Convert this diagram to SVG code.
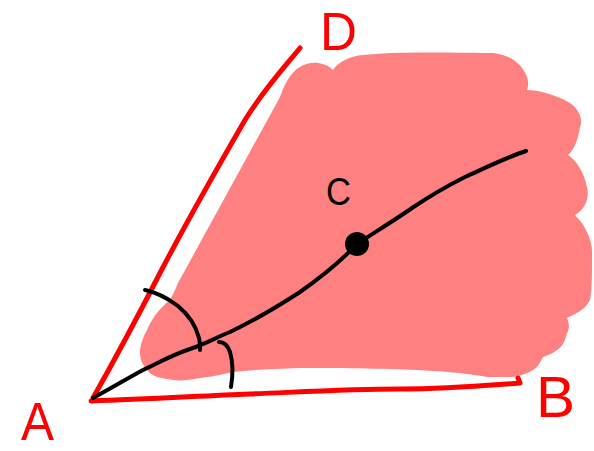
<svg xmlns="http://www.w3.org/2000/svg" width="594" height="451" viewBox="0 0 594 451">
<style>
.red{fill:none;stroke:#FF0000;stroke-width:5;stroke-linecap:round;stroke-linejoin:round}
.blk{fill:none;stroke:#000;stroke-width:4;stroke-linecap:round;stroke-linejoin:round}
.lbl{font-family:"Liberation Sans",Arial,sans-serif;fill:#FF0000}
</style>
<rect width="594" height="451" fill="#fff"/>
<g id="region">
<path fill="#FF8080" d="M147,330 C152,318 160,308 170,300 C174,293 176,288 178,283 L280,97 C283,88 290,72 300,67 C308,62 322,60 333,70 C338,62 350,56 363,55 C390,52 420,52 493,53 C510,55 522,63 527,77 C529,83 528,87 527,90 C537,90 555,94 570,103 C580,110 583,120 580,127 C578,140 574,150 568,155 C576,160 584,172 587,187 C590,200 584,210 575,215 C585,225 593,240 592,255 C592,275 592,290 590,300 C586,308 580,312 567,318 C570,325 569,330 567,333 C565,342 562,347 557,350 C552,354 548,355 543,357 C541,361 539,364 537,367 C533,370 530,372 527,373 C520,376 515,377 510,377 L487,377 C460,372 420,368 300,368 C270,369 250,370 233,372 C220,375 210,377 200,378 C190,380 180,381 173,380 C160,378 152,376 150,373 C143,366 140,360 140,353 C140,345 143,337 147,330 Z"/>
</g>
<g id="connectors">
<path id="AD" class="red" d="M93,398 C110,368 135,322 160,273 C185,225 215,172 245,120 C262,92 282,70 300,48"/>
<path id="AB" class="red" d="M91,401 C150,399 200,396 250,394 C300,392 350,389 400,389 C450,389 480,386 520,383 L518,378"/>
<path id="bisector" class="blk" d="M93,398 C110,389 128,378 143,370 C160,362 172,355 190,349 C205,344 215,338 230,332 C255,320 280,305 300,292 C320,278 340,262 357,244 C375,232 395,220 412,208 C430,196 445,187 465,177 C485,168 505,158 526,151"/>
<path id="arc1" class="blk" d="M145,290 C160,293 170,300 178,306 C190,316 196,326 199,338 C200,342 200,347 200,350"/>
<path id="arc2" class="blk" d="M219,342 C224,342 228,346 230,352 C233,362 233,375 231,387"/>
</g>
<g id="C">
<circle cx="357" cy="244" r="12" fill="#000"/>
<text x="326" y="205" font-family="Liberation Sans, Arial, sans-serif" font-size="38" fill="#000" textLength="25" lengthAdjust="spacingAndGlyphs">C</text>
</g>
<g id="A"><text class="lbl" x="21" y="440" font-size="54" textLength="33" lengthAdjust="spacingAndGlyphs">A</text></g>
<g id="B"><text class="lbl" x="536" y="417" font-size="58" textLength="39" lengthAdjust="spacingAndGlyphs">B</text></g>
<g id="D"><text class="lbl" x="320" y="50" font-size="54" textLength="37" lengthAdjust="spacingAndGlyphs">D</text></g>
</svg>
